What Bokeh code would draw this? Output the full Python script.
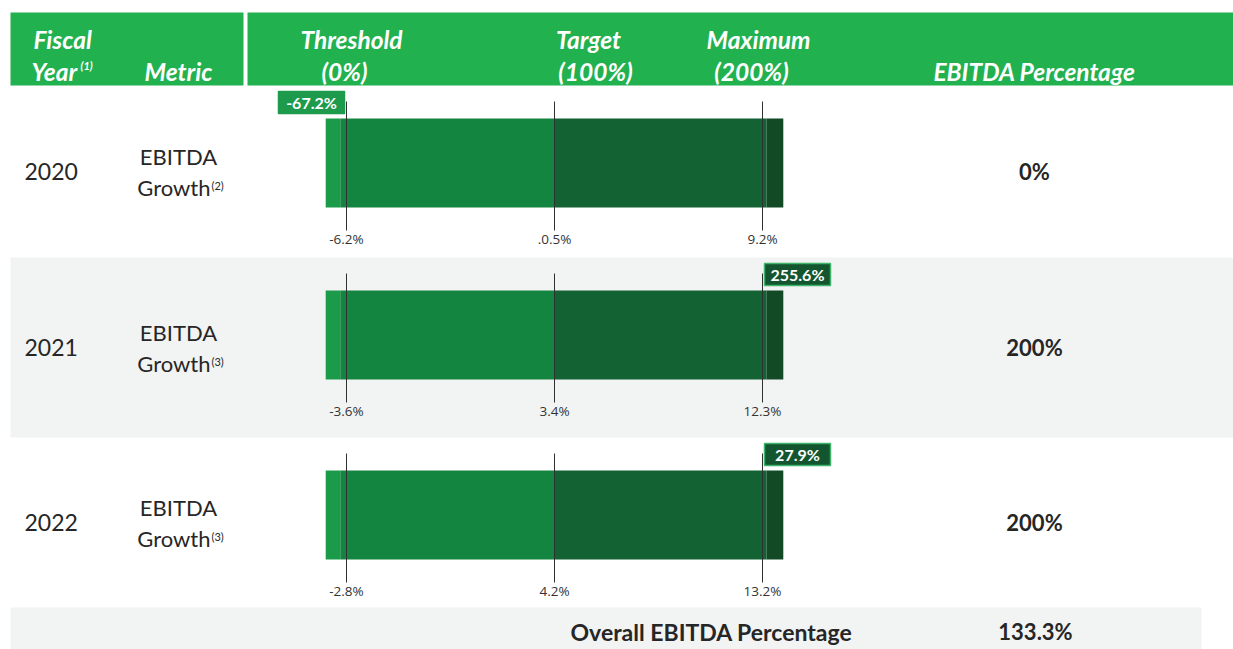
from bokeh.plotting import figure
from bokeh.models import Range1d
from bokeh.core.properties import value
from bokeh.embed import file_html
from bokeh.resources import INLINE

# ---------------- data ----------------
years = ["2020", "2021", "2022"]
metric_name = ["EBITDA", "EBITDA", "EBITDA"]
metric_sub = ["Growth", "Growth", "Growth"]
metric_notes = ["(2)", "(3)", "(3)"]
payout_levels = [0, 100, 200]                 # threshold, target, maximum payout (%)
threshold_labels = ["-6.2%", "-3.6%", "-2.8%"]
target_labels = [".0.5%", "3.4%", "4.2%"]
maximum_labels = ["9.2%", "12.3%", "13.2%"]
actual_growth = [-67.2, 255.6, 27.9]          # actual EBITDA growth (%)
payout_pct = [0, 200, 200]                    # EBITDA percentage earned
overall_pct = 133.3
header_top = ["Fiscal", "Threshold", "Target", "Maximum"]
header_bottom = ["Year", "Metric", "(0%)", "(100%)", "(200%)", "EBITDA Percentage"]

# ---------------- layout helpers (screen px -> data) ----------------
W, H = 1233, 649
X0 = 346.0     # px of 0% payout
K = 2.08       # px per payout %
def fx(sx):
    return (sx - X0) / K
def fy(sy):
    return sy
def pw(px):
    return px / K

p = figure(width=W, height=H, x_range=Range1d(-X0 / K, (W - X0) / K),
           y_range=Range1d(H, 0), output_backend="svg", toolbar_location=None,
           min_border=0)
p.axis.visible = False
p.grid.visible = False
p.outline_line_color = None
p.background_fill_color = "white"

FONT = value("Lato")
DARK = "#262626"

# ---------------- header ----------------
p.quad(left=[fx(10)], right=[fx(1240)], top=[fy(12)], bottom=[fy(85)],
       fill_color="#22b14f", line_color=None)
p.quad(left=[fx(243)], right=[fx(247)], top=[fy(10)], bottom=[fy(86)],
       fill_color="white", line_color=None)

hdr = dict(text_font=FONT, text_font_size="24.5px", text_font_style="bold italic",
           text_color="white", text_baseline="middle")
p.text(x=[fx(33)], y=[fy(39)], text=[header_top[0]], text_align="left", **hdr)
p.text(x=[fx(351), fx(588), fx(758)], y=[fy(39)] * 3, text=header_top[1:],
       text_align="center", **hdr)
p.text(x=[fx(31)], y=[fy(71)], text=[header_bottom[0]], text_align="left", **hdr)
p.text(x=[fx(80)], y=[fy(65)], text=["(1)"], text_align="left",
       text_font=FONT, text_font_size="11px", text_font_style="bold italic",
       text_color="white", text_baseline="middle")
p.text(x=[fx(144)], y=[fy(71)], text=[header_bottom[1]], text_align="left", **hdr)
p.text(x=[fx(344), fx(595), fx(751), fx(1034)], y=[fy(71)] * 4,
       text=header_bottom[2:], text_align="center", **hdr)

# ---------------- rows ----------------
row_tops = [85, 257, 437]
row_h = [172, 180, 170]
row_bg = ["white", "#f2f3f3", "white"]

seg_edges = [-10, -3, 100, 202, 210]
seg_colors = ["#1b9b49", "#148541", "#136233", "#124a26"]

for i, yr in enumerate(years):
    top = row_tops[i]
    cy = top + row_h[i] / 2
    if row_bg[i] != "white":
        p.quad(left=[fx(10)], right=[fx(1240)], top=[fy(top)],
               bottom=[fy(top + row_h[i])], fill_color=row_bg[i], line_color=None)

    # left columns
    p.text(x=[fx(24)], y=[fy(cy)], text=[yr], text_font=FONT, text_font_size="23px",
           text_color=DARK, text_align="left", text_baseline="middle")
    p.text(x=[fx(178)], y=[fy(cy - 15)], text=[metric_name[i]], text_font=FONT,
           text_font_size="22px", text_color=DARK, text_align="center",
           text_baseline="middle")
    p.text(x=[fx(210)], y=[fy(cy + 16)], text=[metric_sub[i]], text_font=FONT,
           text_font_size="22px", text_color=DARK, text_align="right",
           text_baseline="middle")
    p.text(x=[fx(211)], y=[fy(cy + 14)], text=[metric_notes[i]], text_font=FONT,
           text_font_size="11px", text_color=DARK, text_align="left",
           text_baseline="middle")

    # bar segments
    bt, bb = top + 33, top + 122
    p.quad(left=seg_edges[:-1], right=seg_edges[1:], top=[fy(bt)] * 4,
           bottom=[fy(bb)] * 4, fill_color=seg_colors, line_color=None)

    # goal lines
    lt, lb = top + 16, top + 145
    p.segment(x0=payout_levels, x1=payout_levels, y0=[fy(lt)] * 3, y1=[fy(lb)] * 3,
              line_color="#303030", line_width=1)
    p.text(x=payout_levels, y=[fy(top + 153)] * 3,
           text=[threshold_labels[i], target_labels[i], maximum_labels[i]],
           text_font=value("Open Sans"), text_font_size="13.5px", text_color="#333333",
           text_align="center", text_baseline="middle")

    # callout for actual result
    bw = pw(66)
    gap = pw(2)
    if payout_pct[i] <= payout_levels[0]:
        right = payout_pct[i] - gap
        left = right - bw
        fill, border = "#1e9a4c", "#1e9a4c"
    else:
        left = payout_pct[i] + gap
        right = left + bw
        fill, border = "#13552e", "#3fb56c"
    ctop = lt - 10
    p.quad(left=[left], right=[right], top=[fy(ctop)], bottom=[fy(ctop + 22)],
           fill_color=fill, line_color=border, line_width=1.5)
    p.text(x=[(left + right) / 2], y=[fy(ctop + 11)], text=[f"{actual_growth[i]:.1f}%"],
           text_font=FONT, text_font_size="16px", text_font_style="bold",
           text_color="white", text_align="center", text_baseline="middle")

    # payout
    p.text(x=[fx(1034)], y=[fy(cy)], text=[f"{payout_pct[i]:.0f}%"], text_font=FONT,
           text_font_size="22px", text_font_style="bold", text_color=DARK,
           text_align="center", text_baseline="middle")

# ---------------- footer ----------------
p.quad(left=[fx(10)], right=[fx(1201)], top=[fy(607)], bottom=[fy(660)],
       fill_color="#f2f3f3", line_color=None)
p.text(x=[fx(711)], y=[fy(631)], text=["Overall EBITDA Percentage"], text_font=FONT,
       text_font_size="23px", text_font_style="bold", text_color=DARK,
       text_align="center", text_baseline="middle")
p.text(x=[fx(1035)], y=[fy(631)], text=[f"{overall_pct:.1f}%"], text_font=FONT,
       text_font_size="22px", text_font_style="bold", text_color=DARK,
       text_align="center", text_baseline="middle")

open("out.html", "w").write(file_html(p, INLINE))
